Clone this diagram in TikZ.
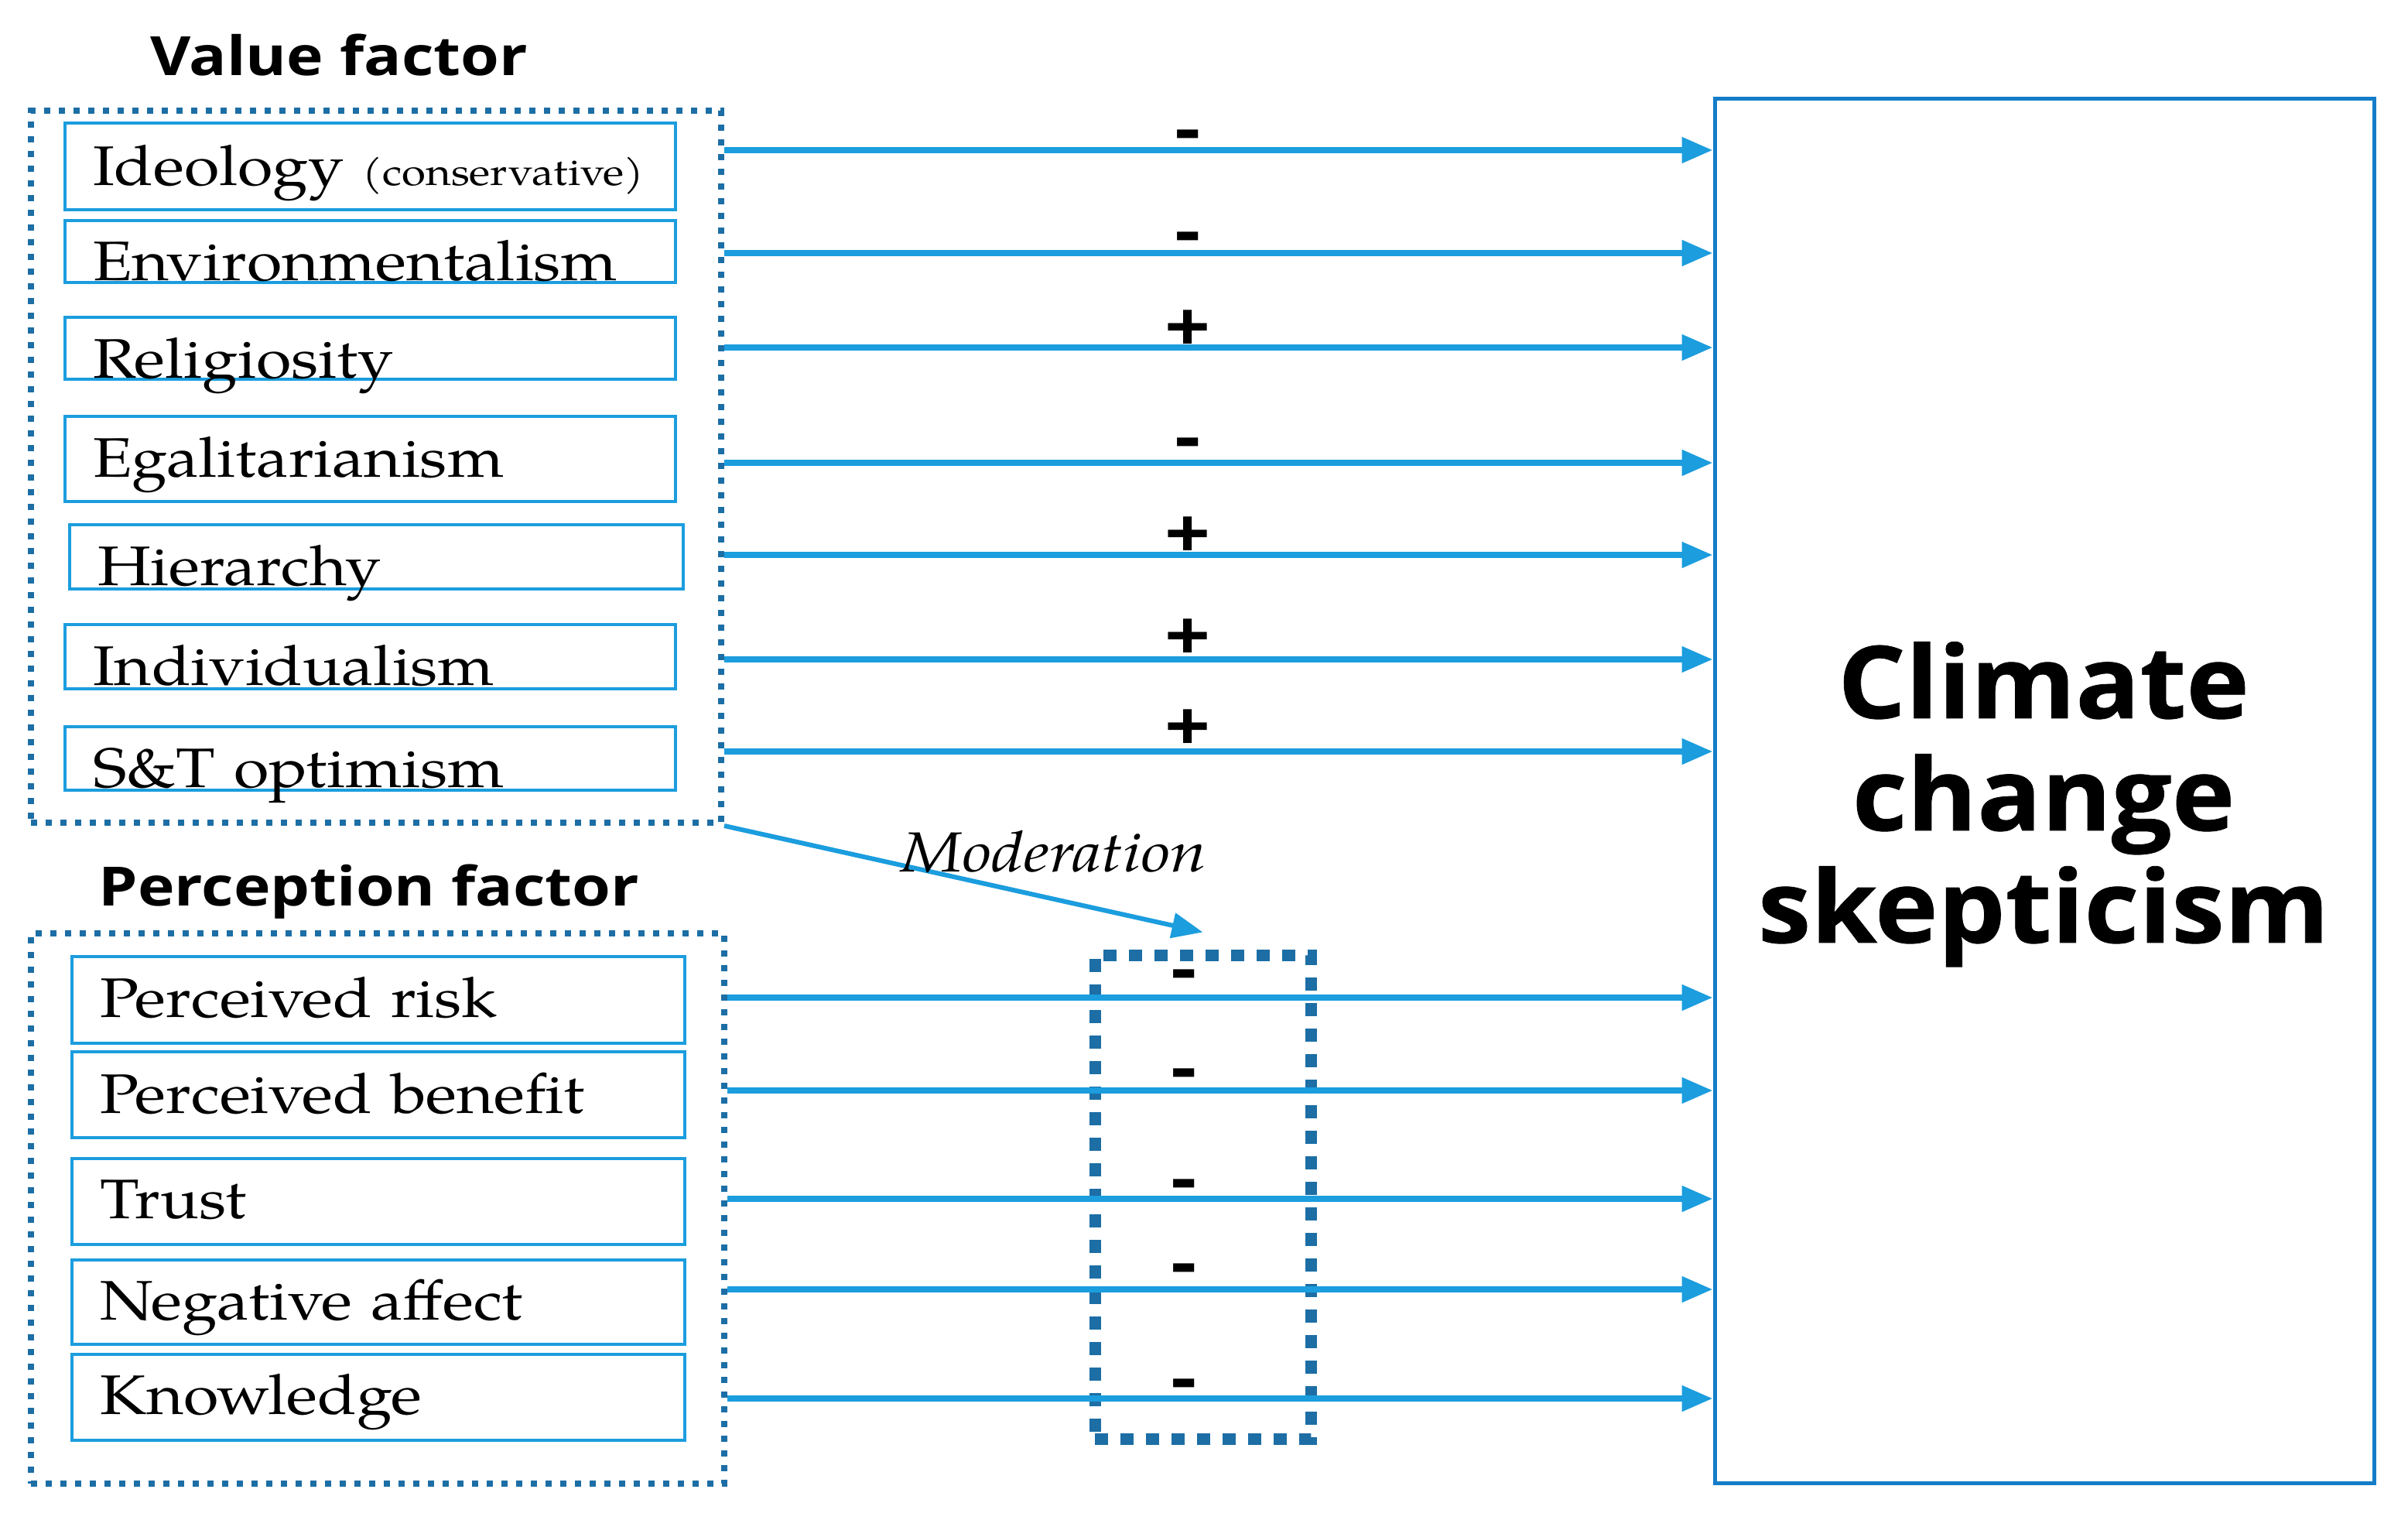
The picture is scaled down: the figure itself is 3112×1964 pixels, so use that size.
\documentclass[tikz,border=0pt]{standalone}
\usepackage{fontspec}
\usetikzlibrary{arrows.meta,fit}
\newfontfamily\itemfont{texgyrepagella}[Extension=.otf,UprightFont=*-regular,ItalicFont=*-italic,BoldFont=*-bold,BoldItalicFont=*-bolditalic,FakeStretch=1.15]
\newfontfamily\headfont{Open Sans}[FakeStretch=1.15]
\newfontfamily\bigfont{Open Sans}[FakeStretch=1.06,BoldFeatures={FakeBold=0.6}]
\definecolor{arrowblue}{RGB}{27,157,222}
\definecolor{dotblue}{RGB}{28,110,165}
\definecolor{boxblue}{RGB}{20,125,200}

\begin{document}
\begin{tikzpicture}[x=1pt,y=-1pt,
  item/.style={draw=arrowblue, line width=4pt, anchor=north west, inner xsep=36pt, inner ysep=0pt,
    text width=717pt, align=left, font=\itemfont\fontsize{72}{80}\selectfont},
  group/.style={draw=dotblue, line width=8pt, dash pattern=on 8pt off 11pt, inner sep=0pt},
  modgroup/.style={group, line width=15pt, dash pattern=on 17pt off 16pt},
  arr/.style={draw=arrowblue, line width=8pt, -{Triangle[length=40pt,width=32pt]}},
  sign/.style={anchor=base, font=\headfont\bfseries\fontsize{90}{90}\selectfont},
  head/.style={anchor=base, font=\headfont\bfseries\fontsize{70}{80}\selectfont}]
  \path[use as bounding box, fill=white] (0,0) rectangle (3112,1964);

  % Groups
  \node[group, fit={(40,143.5) (932,1063)}] (value) {};
  \node[group, fit={(40,1206) (936,1917)}] (percep) {};
  \node[modgroup, fit={(1415,1234) (1694,1859)}] (modbox) {};
  \node[head] (valuehead) at (438,98) {Value factor};
  \node[head] (perchead) at (477,1170) {Perception factor};

  % Value factor items
  \node[item, text height=80pt, text depth=32pt] (ideo) at (82,157) {Ideology {\fontsize{49}{50}\selectfont (conservative)}};
  \node[item, text height=77pt, text depth=3pt] (envi) at (82,283) {Environmentalism};
  \node[item, text height=78pt, text depth=2pt] (reli) at (82,408) {Religiosity};
  \node[item, text height=78pt, text depth=32pt] (egal) at (82,536) {Egalitarianism};
  \node[item, text height=78.5pt, text depth=4.5pt, text width=721pt] (hier) at (88,676) {Hierarchy};
  \node[item, text height=78pt, text depth=5pt] (indi) at (82,805) {Individualism};
  \node[item, text height=78pt, text depth=4pt] (opti) at (82,937) {S\&T optimism};

  % Perception factor items
  \node[item, text height=78pt, text depth=33.5pt, text width=720pt] (risk) at (91,1234) {Perceived risk};
  \node[item, text height=79pt, text depth=32pt, text width=720pt] (bene) at (91,1357) {Perceived benefit};
  \node[item, text height=77pt, text depth=33.5pt, text width=720pt] (trust) at (91,1495) {Trust};
  \node[item, text height=77pt, text depth=32pt, text width=720pt] (affe) at (91,1626) {Negative affect};
  \node[item, text height=77pt, text depth=33.5pt, text width=720pt] (know) at (91,1748) {Knowledge};

  % Outcome
  \node[draw=boxblue, line width=5pt, inner sep=0pt, fit={(2216,128) (3068,1916)}] (cs) {};
  \node[anchor=north, inner sep=0pt, align=center,
    font=\bigfont\bfseries\fontsize{130}{145}\selectfont] (cstext) at (2641,829) {Climate\\change\\skepticism};

  % Paths
  \draw[arr] (value.east |- 0,194) -- (cs.west |- 0,194);
  \draw[arr] (value.east |- 0,327) -- (cs.west |- 0,327);
  \draw[arr] (value.east |- 0,449) -- (cs.west |- 0,449);
  \draw[arr] (value.east |- 0,598) -- (cs.west |- 0,598);
  \draw[arr] (value.east |- 0,717) -- (cs.west |- 0,717);
  \draw[arr] (value.east |- 0,852) -- (cs.west |- 0,852);
  \draw[arr] (value.east |- 0,971) -- (cs.west |- 0,971);
  \draw[arr] (percep.east |- 0,1289) -- (cs.west |- 0,1289);
  \draw[arr] (percep.east |- 0,1409) -- (cs.west |- 0,1409);
  \draw[arr] (percep.east |- 0,1549) -- (cs.west |- 0,1549);
  \draw[arr] (percep.east |- 0,1666) -- (cs.west |- 0,1666);
  \draw[arr] (percep.east |- 0,1807) -- (cs.west |- 0,1807);
  \draw[arr, line width=6pt] (value.south east) -- ([yshift=22pt]modbox.north);
  \node[anchor=base, font=\itemfont\itshape\fontsize{73}{80}\selectfont] (modlabel) at (1362,1126) {Moderation};

  % Signs
  \node[sign] (s1) at (1535,197) {-};
  \node[sign] (s2) at (1535,329) {-};
  \node[sign] (s3) at (1535,454) {+};
  \node[sign] (s4) at (1535,595) {-};
  \node[sign] (s5) at (1535,721) {+};
  \node[sign] (s6) at (1535,853) {+};
  \node[sign] (s7) at (1535,970) {+};
  \node[sign] (p1) at (1530,1282) {-};
  \node[sign] (p2) at (1530,1410) {-};
  \node[sign] (p3) at (1530,1553) {-};
  \node[sign] (p4) at (1530,1662) {-};
  \node[sign] (p5) at (1530,1811) {-};

\end{tikzpicture}
\end{document}
